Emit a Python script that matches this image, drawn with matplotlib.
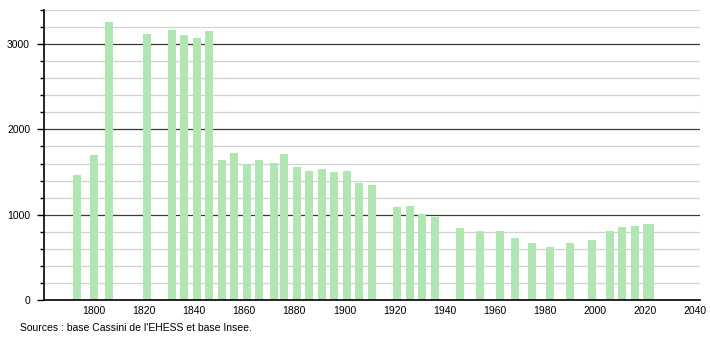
import numpy as np
import matplotlib.pyplot as plt
from matplotlib.ticker import MultipleLocator

# recensements (annees, population)
years = [1793, 1800, 1806, 1821, 1831, 1836, 1841, 1846, 1851, 1856,
         1861, 1866, 1872, 1876, 1881, 1886, 1891, 1896, 1901, 1906,
         1911, 1921, 1926, 1931, 1936, 1946, 1954, 1962, 1968, 1975,
         1982, 1990, 1999, 2006, 2011, 2016, 2021, 2022]
pop = [1470, 1698, 3255, 3118, 3165, 3110, 3071, 3153, 1647, 1725,
       1596, 1647, 1608, 1706, 1557, 1510, 1541, 1502, 1518, 1376,
       1353, 1090, 1106, 1012, 976, 847, 812, 810, 729, 670,
       620, 667, 706, 812, 855, 870, 888, 894]

x_ticks = [1800, 1820, 1840, 1860, 1880, 1900, 1920, 1940, 1960, 1980, 2000, 2020, 2040]
source = "Sources : base Cassini de l'EHESS et base Insee."

plt.rcParams['font.family'] = ['Liberation Sans', 'DejaVu Sans']

fig = plt.figure(figsize=(7.1, 3.4), dpi=100)
ax = fig.add_axes([44/710, 40/340, 656/710, 290/340])

# grille
for v in np.arange(200, 3401, 200):
    if v % 1000 == 0:
        ax.axhline(v, color='#3a3a3a', lw=0.9, zorder=1)
    else:
        ax.axhline(v, color='#d2d2d2', lw=0.9, zorder=1)

ax.bar(years, pop, width=3.2, color='#b1e5b1', zorder=2)

ax.set_xlim(1780, 2042)
ax.set_ylim(0, 3400)
ax.set_xticks(x_ticks)
ax.yaxis.set_major_locator(MultipleLocator(1000))
ax.yaxis.set_minor_locator(MultipleLocator(200))
ax.tick_params(axis='x', length=0, pad=4, labelsize=7.5)
ax.tick_params(axis='y', which='major', length=5, width=1, labelsize=7.5, pad=5)
ax.tick_params(axis='y', which='minor', length=3, width=1)

for s in ['top', 'right']:
    ax.spines[s].set_visible(False)
ax.spines['left'].set_linewidth(1.2)
ax.spines['bottom'].set_linewidth(1.2)

fig.text(20/710, 1 - 328/340, source, fontsize=7.5, va='center', ha='left')

fig.savefig('out.png', dpi=100)
